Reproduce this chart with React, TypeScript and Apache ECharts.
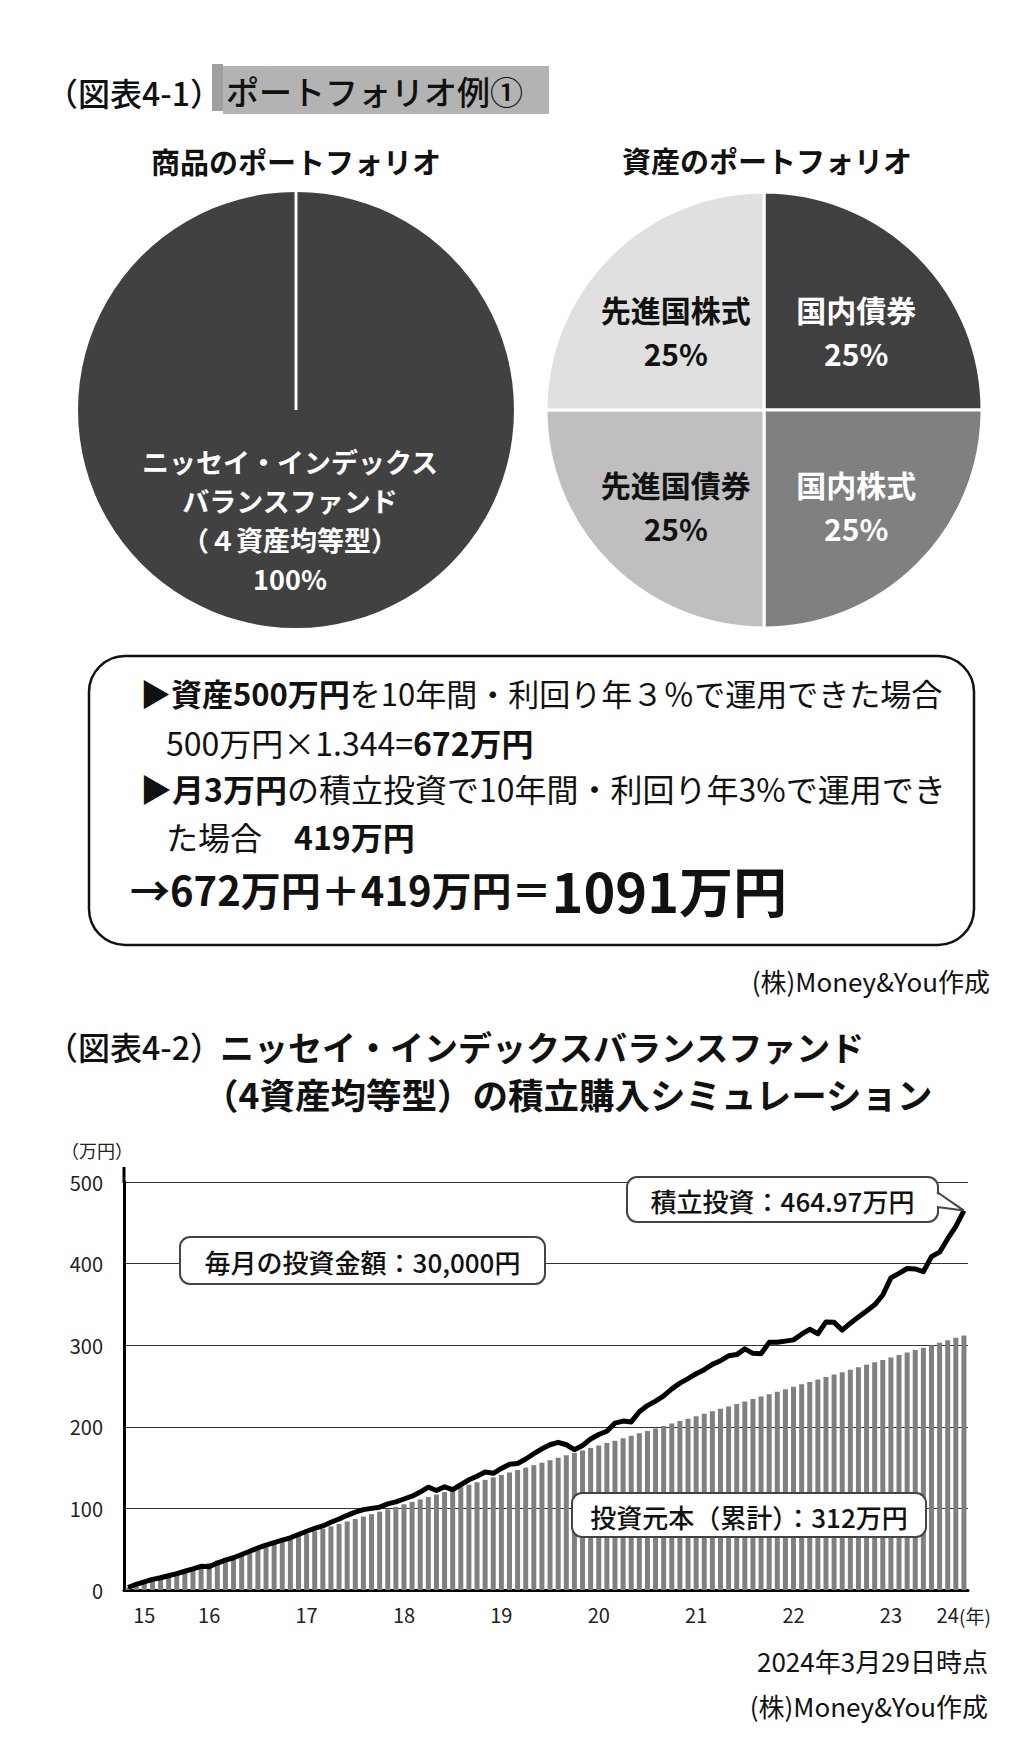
import React, { useEffect, useRef } from 'react';
import * as echarts from 'echarts';

const FONT = "'Noto Sans CJK JP', 'Noto Sans', sans-serif";

// 図表4-1 ポートフォリオ
const productNames = ['ニッセイ・インデックス\nバランスファンド\n（４資産均等型）'];
const productShares = [100];
const assetNames = ['国内債券', '国内株式', '先進国債券', '先進国株式'];
const assetShares = [25, 25, 25, 25];
const assetColors = ['#404040', '#808080', '#bfbfbf', '#e0e0e0'];
const assetLabelColors = ['#ffffff', '#ffffff', '#111111', '#111111'];

// 図表4-2 積立シミュレーション（2015年8月〜2024年3月、万円）
const startYear = 2015;
const startMonth = 8;
const principal = [
  3, 6, 9, 12, 15, 18, 21, 24, 27, 30,
  33, 36, 39, 42, 45, 48, 51, 54, 57, 60,
  63, 66, 69, 72, 75, 78, 81, 84, 87, 90,
  93, 96, 99, 102, 105, 108, 111, 114, 117, 120,
  123, 126, 129, 132, 135, 138, 141, 144, 147, 150,
  153, 156, 159, 162, 165, 168, 171, 174, 177, 180,
  183, 186, 189, 192, 195, 198, 201, 204, 207, 210,
  213, 216, 219, 222, 225, 228, 231, 234, 237, 240,
  243, 246, 249, 252, 255, 258, 261, 264, 267, 270,
  273, 276, 279, 282, 285, 288, 291, 294, 297, 300,
  303, 306, 309, 312,
];
const valuation = [
  3, 7, 10, 13, 15, 17.5, 20, 23, 26, 29,
  28.5, 33, 36.5, 39.5, 43.5, 47.5, 51.5, 55, 58, 61,
  64, 68, 72, 75.5, 78.5, 83, 87, 91.5, 95.5, 98.5,
  100, 101.5, 105.5, 108, 111.5, 115, 120, 126, 122, 126.5,
  123, 129, 135, 139.5, 144.5, 143, 149, 154, 155, 160.5,
  167, 173, 178, 181, 178, 172, 177, 185, 190.5, 194.5,
  204.5, 207, 206, 218.5, 226, 231.5, 238, 246.5, 253.5, 259,
  265, 270, 276.5, 281, 287, 288.5, 295.5, 290, 289.5, 303.5,
  303.5, 305, 306.5, 313.5, 319.5, 314, 328.5, 328, 318.5, 327,
  334.5, 342, 349.5, 361.5, 382.5, 388, 394, 393.5, 390, 408.5,
  414, 430.5, 445.5, 464.97,
];
const xTickIndex = [2, 10, 22, 34, 46, 58, 70, 82, 94, 101];
const xTickLabel = ['15', '16', '17', '18', '19', '20', '21', '22', '23', '24'];

const months: string[] = [];
for (let i = 0; i < principal.length; i++) {
  const m = startMonth - 1 + i;
  const y = startYear + Math.floor(m / 12);
  months.push(`${y}-${String((m % 12) + 1).padStart(2, '0')}`);
}

// レイアウト
const PIE_Y = 410;
const PIE_R = 218;
const LEFT_PIE_X = 296;
const RIGHT_PIE_X = 764;
const GRID = { left: 124, right: 67, top: 1182, height: 408 };

// 資産円グラフのラベル微調整（国内債券, 国内株式, 先進国債券, 先進国株式）
const assetLabelShift = [
  [6.5, 0],
  [6.5, 8.5],
  [-4.5, 8.5],
  [-4.5, 0],
];

const txt = (text: string, x: number, y: number, size: number, extra: any = {}) => ({
  type: 'text',
  x,
  y,
  z: 100,
  style: {
    text,
    fontSize: size,
    fontFamily: FONT,
    fontWeight: 'normal',
    fill: '#111',
    verticalAlign: 'middle',
    ...extra,
  },
});

const labelBox = (text: string, x: number, y: number, w: number, h: number) => [
  {
    type: 'rect',
    z: 100,
    shape: { x, y, width: w, height: h, r: 10 },
    style: { fill: '#fff', stroke: '#444', lineWidth: 2 },
  },
  txt(text, x + w / 2, y + h / 2 + 1, 26, { align: 'center', fontWeight: 500, fill: '#111' }),
];

const rt = (size: number, bold: boolean) => ({
  fontSize: size,
  fontFamily: FONT,
  fontWeight: bold ? 'bold' : 'normal',
  fill: '#111',
});

const buildGraphics = (tip: number[]) => {
  const boxRight = 937;
  return [
    // 図表4-1 タイトル
    txt('（図表4-1）', 46, 92, 32, { fontWeight: 500 }),
    { type: 'rect', z: 99, shape: { x: 212, y: 64, width: 11, height: 47 }, style: { fill: '#9f9f9f' } },
    { type: 'rect', z: 99, shape: { x: 223, y: 66, width: 326, height: 48 }, style: { fill: '#b3b3b3' } },
    txt('ポートフォリオ例①', 226, 91, 33, { fontWeight: 500 }),
    txt('商品のポートフォリオ', LEFT_PIE_X, 161, 29, { align: 'center', fontWeight: 'bold' }),
    txt('資産のポートフォリオ', 767, 160, 29, { align: 'center', fontWeight: 'bold' }),
    {
      type: 'line',
      z: 100,
      shape: { x1: LEFT_PIE_X, y1: PIE_Y - PIE_R, x2: LEFT_PIE_X, y2: PIE_Y },
      style: { stroke: '#fff', lineWidth: 3 },
    },

    // 計算ボックス
    {
      type: 'rect',
      z: 100,
      shape: { x: 89, y: 656, width: 885, height: 289, r: 36 },
      style: { fill: 'none', stroke: '#111', lineWidth: 2.5 },
    },
    {
      type: 'text', x: 140, y: 692, z: 100,
      style: {
        text: '{b|▶資産500万円}{n|を10年間・利回り年３％で運用できた場合}',
        verticalAlign: 'middle',
        rich: { b: rt(31, true), n: rt(31, false) },
      },
    },
    {
      type: 'text', x: 166, y: 742, z: 100,
      style: {
        text: '{n|500万円×1.344=}{b|672万円}',
        verticalAlign: 'middle',
        rich: { b: rt(32, true), n: rt(32, false) },
      },
    },
    {
      type: 'text', x: 140, y: 788, z: 100,
      style: {
        text: '{b|▶月3万円}{n|の積立投資で10年間・利回り年3%で運用でき}',
        verticalAlign: 'middle',
        rich: { b: rt(32, true), n: rt(32, false) },
      },
    },
    {
      type: 'text', x: 166, y: 836, z: 100,
      style: {
        text: '{n|た場合　}{b|419万円}',
        verticalAlign: 'middle',
        rich: { b: rt(32, true), n: rt(32, false) },
      },
    },
    {
      type: 'text', x: 130, y: 889, z: 100,
      style: {
        text: '{m|→672万円＋419万円＝}{l|1091万円}',
        verticalAlign: 'middle',
        rich: { m: rt(40, true), l: rt(54, true) },
      },
    },
    txt('(株)Money&You作成', 990, 980, 26, { align: 'right' }),

    // 図表4-2 タイトル
    txt('（図表4-2）', 46, 1046, 32, { fontWeight: 500 }),
    txt('ニッセイ・インデックスバランスファンド', 220, 1046, 34, { fontWeight: 'bold' }),
    txt('（4資産均等型）の積立購入シミュレーション', 203, 1093, 35.5, { fontWeight: 'bold' }),

    // 軸まわり
    txt('（万円）', 97, 1150, 18, { align: 'center', fill: '#222' }),
    txt('(年)', 959, 1615, 19, { fill: '#222' }),
    {
      type: 'line',
      z: 100,
      shape: { x1: GRID.left, y1: GRID.top - 15, x2: GRID.left, y2: GRID.top + 1 },
      style: { stroke: '#000', lineWidth: 3 },
    },

    // 吹き出し
    ...labelBox('毎月の投資金額：30,000円', 180, 1237, 365, 47),
    ...labelBox('積立投資：464.97万円', 627, 1177, 311, 45),
    ...labelBox('投資元本（累計）：312万円', 572, 1493, 354, 44),
    {
      type: 'polygon',
      z: 101,
      shape: { points: [[boxRight - 3, 1192], [tip[0], tip[1]], [boxRight - 3, 1207]] },
      style: { fill: '#fff' },
    },
    {
      type: 'polyline',
      z: 102,
      shape: { points: [[boxRight, 1192], [tip[0], tip[1]], [boxRight, 1207]] },
      style: { fill: 'none', stroke: '#444', lineWidth: 2 },
    },

    // 出典
    txt('2024年3月29日時点', 988, 1660, 26, { align: 'right' }),
    txt('(株)Money&You作成', 988, 1705, 26, { align: 'right' }),
  ];
};

const App: React.FC = () => {
  const ref = useRef<HTMLDivElement>(null);

  useEffect(() => {
    if (!ref.current) return;
    const chart = echarts.init(ref.current, undefined, { renderer: 'svg' });

    const option: any = {
      animation: false,
      backgroundColor: '#fff',
      textStyle: { fontFamily: FONT },
      grid: { ...GRID, containLabel: false },
      xAxis: {
        type: 'category',
        data: months,
        boundaryGap: true,
        axisLine: { show: true, lineStyle: { color: '#000', width: 3 } },
        axisTick: { show: false },
        axisLabel: {
          interval: (index: number) => xTickIndex.includes(index),
          formatter: (_v: string, index: number) => xTickLabel[xTickIndex.indexOf(index)] ?? '',
          fontSize: 20,
          color: '#222',
          margin: 14,
          fontFamily: FONT,
        },
        splitLine: { show: false },
      },
      yAxis: {
        type: 'value',
        min: 0,
        max: 500,
        interval: 100,
        axisLine: { show: true, lineStyle: { color: '#000', width: 3 } },
        axisTick: { show: false },
        axisLabel: { fontSize: 20, color: '#222', margin: 21, fontFamily: FONT },
        splitLine: { show: true, lineStyle: { color: '#333', width: 1.2 } },
      },
      series: [
        {
          type: 'pie',
          center: [LEFT_PIE_X, PIE_Y],
          radius: PIE_R,
          startAngle: 90,
          data: productNames.map((name, i) => ({ name, value: productShares[i] })),
          itemStyle: { color: '#414141' },
          label: {
            show: true,
            position: 'inside',
            formatter: '{b}\n{c}%',
            color: '#fff',
            fontSize: 27,
            lineHeight: 39,
            fontWeight: 'bold',
            fontFamily: FONT,
          },
          labelLayout: { dx: -3, dy: -1 },
          labelLine: { show: false },
          emphasis: { disabled: true },
        },
        {
          type: 'pie',
          center: [RIGHT_PIE_X, PIE_Y],
          radius: PIE_R,
          startAngle: 90,
          clockwise: true,
          data: assetNames.map((name, i) => ({
            name,
            value: assetShares[i],
            itemStyle: { color: assetColors[i] },
            label: { color: assetLabelColors[i] },
          })),
          itemStyle: { borderColor: '#fff', borderWidth: 3 },
          label: {
            show: true,
            position: 'inside',
            formatter: '{b}\n{c}%',
            fontSize: 30,
            lineHeight: 43.5,
            fontWeight: 'bold',
            fontFamily: FONT,
          },
          labelLayout: (p: any) => ({
            dx: assetLabelShift[p.dataIndex][0],
            dy: assetLabelShift[p.dataIndex][1],
          }),
          labelLine: { show: false },
          emphasis: { disabled: true },
        },
        {
          name: '投資元本（累計）',
          type: 'bar',
          data: principal,
          barWidth: 5,
          itemStyle: { color: '#808080' },
          emphasis: { disabled: true },
          z: 2,
        },
        {
          name: '積立投資',
          type: 'line',
          data: valuation,
          symbol: 'none',
          lineStyle: { color: '#000', width: 5, join: 'round' },
          emphasis: { disabled: true },
          z: 3,
        },
      ],
    };

    chart.setOption(option);
    const last = valuation.length - 1;
    const tip = chart.convertToPixel({ gridIndex: 0 }, [last, valuation[last]]) as number[];
    chart.setOption({ graphic: buildGraphics(tip) });

    return () => {
      chart.dispose();
    };
  }, []);

  return (
    <div
      ref={ref}
      style={{ position: 'absolute', left: 0, top: 0, width: 1035, height: 1748, background: '#fff' }}
    />
  );
};

export default App;
